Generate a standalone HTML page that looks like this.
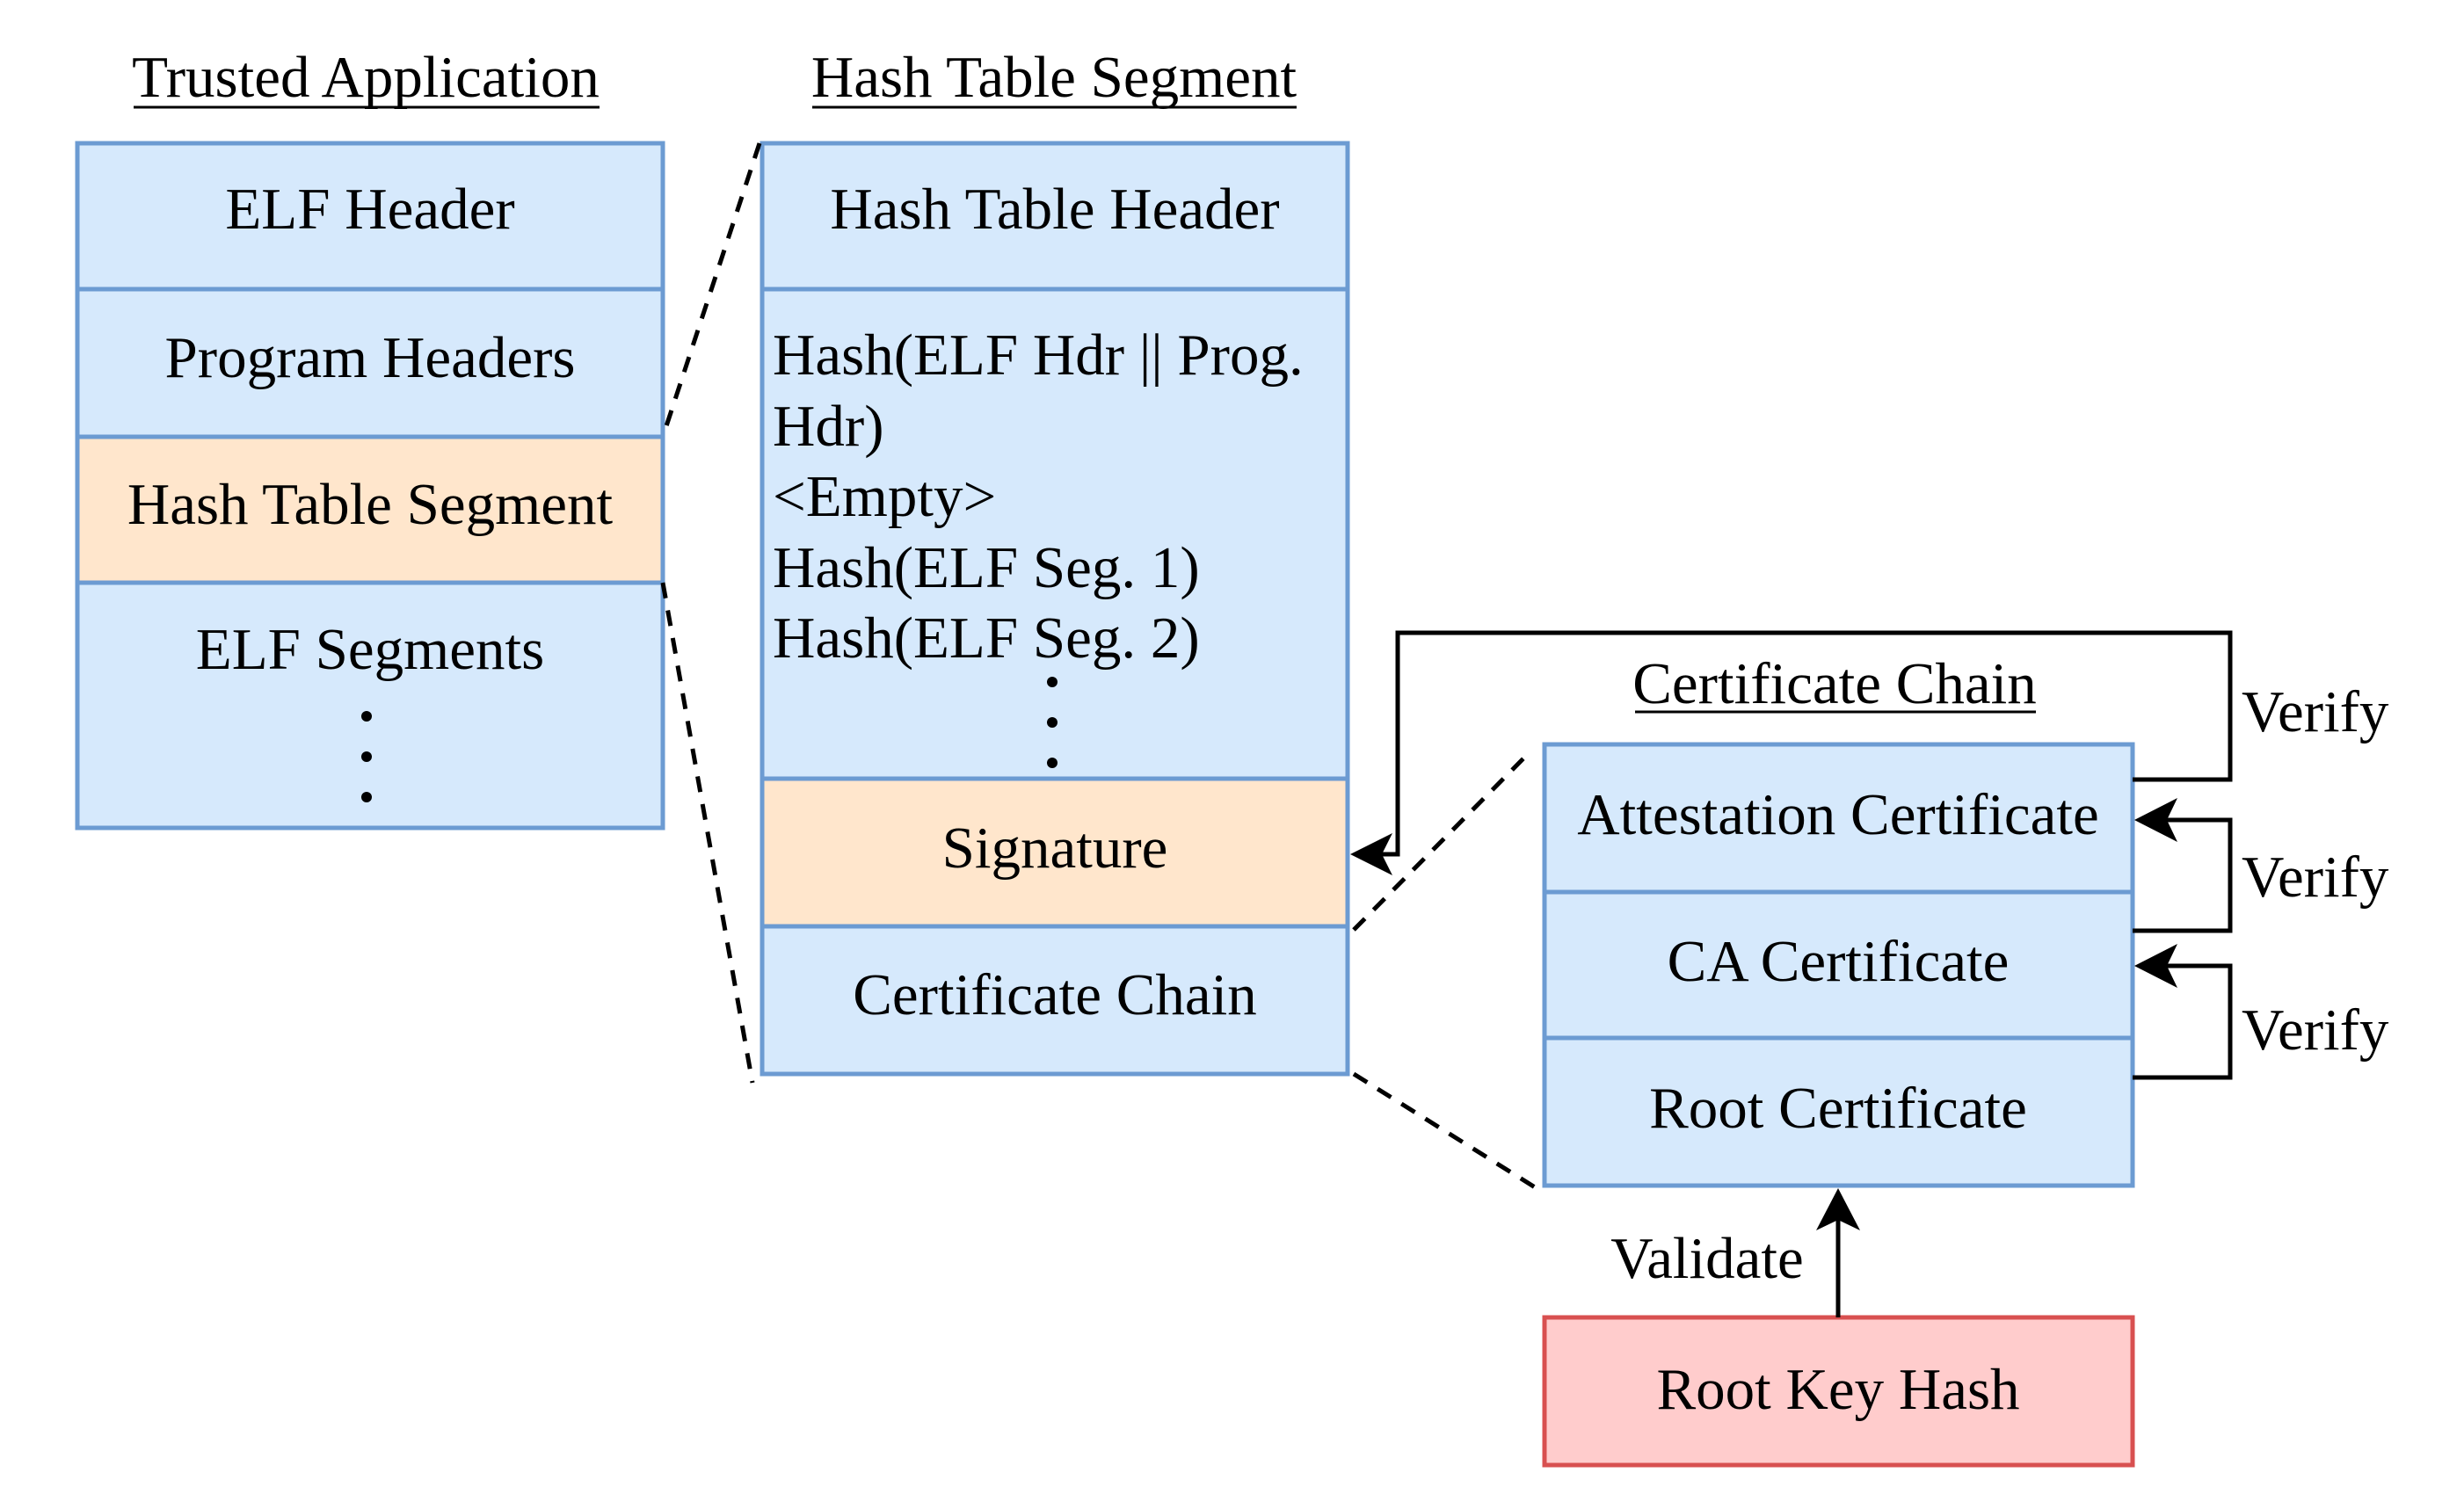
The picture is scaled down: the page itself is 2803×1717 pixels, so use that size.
<!DOCTYPE html>
<html><head><meta charset="utf-8"><style>
html,body{margin:0;padding:0;background:#fff;}
svg{display:block;}
svg text{font-family:"Liberation Serif","Times New Roman","DejaVu Serif",serif;font-size:67px;fill:#000;}
</style></head><body>
<svg width="2803" height="1717" viewBox="0 0 2803 1717" xmlns="http://www.w3.org/2000/svg" font-family="Liberation Serif, serif">
<g stroke="#6c9bd2" stroke-width="5">
<rect x="88" y="163" width="666" height="166" fill="#d6e9fc"/>
<rect x="88" y="329" width="666" height="168" fill="#d6e9fc"/>
<rect x="88" y="497" width="666" height="166" fill="#ffe6cc"/>
<rect x="88" y="663" width="666" height="279" fill="#d6e9fc"/>
<rect x="867" y="163" width="666" height="166" fill="#d6e9fc"/>
<rect x="867" y="329" width="666" height="557" fill="#d6e9fc"/>
<rect x="867" y="886" width="666" height="168" fill="#ffe6cc"/>
<rect x="867" y="1054" width="666" height="168" fill="#d6e9fc"/>
<rect x="1757" y="847" width="669" height="168" fill="#d6e9fc"/>
<rect x="1757" y="1015" width="669" height="166" fill="#d6e9fc"/>
<rect x="1757" y="1181" width="669" height="168" fill="#d6e9fc"/>
</g>
<rect x="1757" y="1499" width="669" height="168" fill="#ffcccc" stroke="#d85050" stroke-width="5"/>
<g stroke="#000" stroke-width="5" stroke-dasharray="18,14" fill="none">
<line x1="864" y1="163" x2="754" y2="497"/>
<line x1="754" y1="663" x2="856" y2="1232"/>
<line x1="1540" y1="1058" x2="1742" y2="854"/>
<line x1="1540" y1="1222" x2="1751" y2="1354"/>
</g>
<g stroke="#000" stroke-width="5" fill="none">
<polyline points="2426,887 2537,887 2537,720 1590,720 1590,972 1545,972"/>
<polyline points="2426,1059 2537,1059 2537,933 2436,933"/>
<polyline points="2426,1226 2537,1226 2537,1099 2436,1099"/>
<line x1="2091" y1="1499" x2="2091" y2="1380"/>
</g>
<g fill="#000">
<path d="M1536,972 L1584,948 L1572,972 L1584,996 Z"/>
<path d="M2428,933 L2477,908 L2465,933 L2477,958 Z"/>
<path d="M2428,1099 L2477,1074 L2465,1099 L2477,1124 Z"/>
<path d="M2091,1352 L2116,1400 L2091,1388 L2066,1400 Z"/>
</g>
<g text-anchor="middle">
<text x="416" y="110">Trusted Application</text>
<text x="1199" y="110">Hash Table Segment</text>
<text x="2087" y="800">Certificate Chain</text>
</g>
<g stroke="#000" stroke-width="3">
<line x1="152" y1="122" x2="682" y2="122"/>
<line x1="924" y1="122" x2="1475" y2="122"/>
<line x1="1860" y1="810" x2="2316" y2="810"/>
</g>
<g text-anchor="middle">
<text x="421" y="260">ELF Header</text>
<text x="421" y="429">Program Headers</text>
<text x="421" y="596">Hash Table Segment</text>
<text x="421" y="761">ELF Segments</text>
<text x="1200" y="260">Hash Table Header</text>
<text x="1200" y="987">Signature</text>
<text x="1200" y="1154">Certificate Chain</text>
<text x="2091" y="949">Attestation Certificate</text>
<text x="2091" y="1116">CA Certificate</text>
<text x="2091" y="1283">Root Certificate</text>
<text x="2091" y="1603">Root Key Hash</text>
<text x="1942" y="1454">Validate</text>
</g>
<g>
<text x="879" y="426">Hash(ELF Hdr || Prog.</text>
<text x="879" y="507">Hdr)</text>
<text x="879" y="587">&lt;Empty&gt;</text>
<text x="879" y="668">Hash(ELF Seg. 1)</text>
<text x="879" y="748">Hash(ELF Seg. 2)</text>
<text x="2550" y="832">Verify</text>
<text x="2550" y="1020">Verify</text>
<text x="2550" y="1194">Verify</text>
</g>
<g fill="#000">
<circle cx="1197" cy="776" r="6"/><circle cx="1197" cy="822" r="6"/><circle cx="1197" cy="868" r="6"/>
<circle cx="417" cy="815" r="6"/><circle cx="417" cy="861" r="6"/><circle cx="417" cy="907" r="6"/>
</g>
</svg>
</body></html>
